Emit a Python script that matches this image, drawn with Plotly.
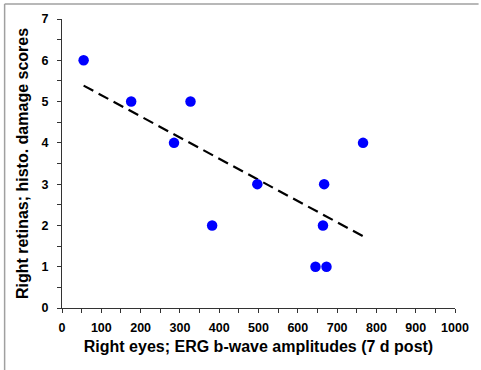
import numpy as np
import plotly.graph_objects as go

erg_amplitude = [55, 176, 327, 285, 382, 497, 667, 664, 645, 673, 766]
damage_score = [6, 5, 5, 4, 2, 3, 3, 2, 1, 1, 4]
x_ticks = list(range(0, 1001, 100))
y_ticks = list(range(0, 8))

slope, intercept = np.polyfit(erg_amplitude, damage_score, 1)
fit_x = [min(erg_amplitude), max(erg_amplitude)]
fit_y = [slope * v + intercept for v in fit_x]

font = "Liberation Sans, Arial, sans-serif"

fig = go.Figure()
fig.add_trace(go.Scatter(x=fit_x, y=fit_y, mode="lines",
                         line=dict(color="black", width=2.2, dash="11px,6px"),
                         hoverinfo="skip", showlegend=False))
fig.add_trace(go.Scatter(x=erg_amplitude, y=damage_score, mode="markers",
                         marker=dict(color="#0000FF", size=10.5, line=dict(width=0)),
                         showlegend=False))

axis_common = dict(showgrid=False, zeroline=False, showline=True, linecolor="#333333",
                   linewidth=1, ticks="outside", ticklen=4, tickcolor="#333333",
                   tickfont=dict(family=font, size=12.5, color="black", weight="bold"))

fig.update_xaxes(range=[0, 1000], tickvals=x_ticks, ticktext=[str(v) for v in x_ticks],
                 minor=dict(dtick=50, ticks="outside", ticklen=4, tickcolor="#333333"),
                 ticklabelstandoff=4,
                 title=dict(text="Right eyes; ERG b-wave amplitudes (7 d post)",
                            font=dict(family=font, size=16, color="black", weight="bold"),
                            standoff=6),
                 **axis_common)
fig.update_yaxes(range=[0, 7], tickvals=y_ticks, ticktext=[str(v) for v in y_ticks],
                 minor=dict(dtick=0.5, ticks="outside", ticklen=4, tickcolor="#333333"),
                 ticklabelstandoff=6,
                 title=dict(text="Right retinas; histo. damage scores",
                            font=dict(family=font, size=16, color="black", weight="bold"),
                            standoff=8),
                 **axis_common)

fig.add_shape(type="line", xref="paper", yref="paper", x0=-0.146, x1=1.06, y0=1.052, y1=1.052,
              line=dict(color="#a0a0a0", width=1.5))
fig.add_shape(type="line", xref="paper", yref="paper", x0=-0.146, x1=-0.146, y0=-0.22, y1=1.052,
              line=dict(color="#a0a0a0", width=1.5))

fig.update_layout(width=481, height=370, margin=dict(l=62, r=23, t=18, b=62),
                  plot_bgcolor="white", paper_bgcolor="white")
fig.write_html("out.html")
